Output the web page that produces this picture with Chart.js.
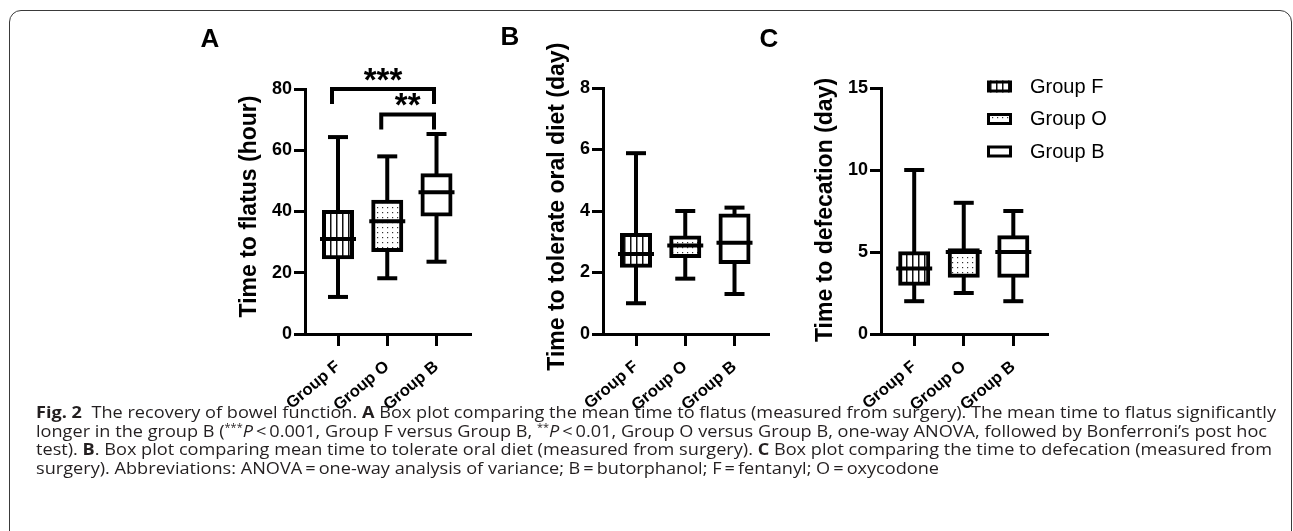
<!DOCTYPE html>
<html><head><meta charset="utf-8">
<script src="https://cdn.jsdelivr.net/npm/chart.js@4.4.1/dist/chart.umd.min.js"></script>
<style>
html,body{margin:0;padding:0;background:#fff;}
body{width:1293px;height:531px;overflow:hidden;position:relative;}
#frame{position:absolute;left:9px;top:10px;width:1283px;height:640px;border:1.5px solid #3a3a3a;border-radius:12px;box-sizing:border-box;}
canvas{position:absolute;top:0;}
.cap{position:absolute;left:36px;white-space:nowrap;font-family:'Open Sans','Noto Sans',sans-serif;font-size:16.6px;line-height:16.6px;color:#231f20;transform-origin:0 0;}
.cap b{font-weight:700;}
.sup{font-size:10px;position:relative;top:-6px;}
</style></head><body>
<div id="frame"></div>
<canvas id="chartA" width="350" height="420" style="left:150px"></canvas>
<canvas id="chartB" width="320" height="420" style="left:480px"></canvas>
<canvas id="chartC" width="400" height="420" style="left:750px"></canvas>
<div class="cap" id="l1" style="top:404px"><b>Fig. 2</b>&nbsp;&nbsp;The recovery of bowel function. <b>A</b> Box plot comparing the mean time to flatus (measured from surgery). The mean time to flatus significantly</div>
<div class="cap" id="l2" style="top:422.6px">longer in the group B (<span class="sup">***</span><i>P</i>&#8201;&lt;&#8201;0.001, Group F versus Group B, <span class="sup">**</span><i>P</i>&#8201;&lt;&#8201;0.01, Group O versus Group B, one-way ANOVA, followed by Bonferroni’s post hoc</div>
<div class="cap" id="l3" style="top:441.2px">test). <b>B</b>. Box plot comparing mean time to tolerate oral diet (measured from surgery). <b>C</b> Box plot comparing the time to defecation (measured from</div>
<div class="cap" id="l4" style="top:459.8px">surgery). Abbreviations: ANOVA&#8201;=&#8201;one-way analysis of variance; B&#8201;=&#8201;butorphanol; F&#8201;=&#8201;fentanyl; O&#8201;=&#8201;oxycodone</div>
<script>
// ---------- data ----------
const categories = ['Group F', 'Group O', 'Group B'];

// Panel A: time to flatus (hour)
const flatusMin    = [12.1, 18.2, 23.6];
const flatusQ1     = [25.1, 27.4, 39.0];
const flatusMedian = [31.0, 36.8, 46.3];
const flatusQ3     = [39.8, 43.2, 51.8];
const flatusMax    = [64.3, 58.0, 65.3];
const flatusTicks  = [0, 20, 40, 60, 80];

// Panel B: time to tolerate oral diet (day)
const dietMin    = [1.0, 1.8, 1.3];
const dietQ1     = [2.22, 2.54, 2.34];
const dietMedian = [2.6, 2.88, 2.97];
const dietQ3     = [3.22, 3.14, 3.85];
const dietMax    = [5.88, 4.0, 4.11];
const dietTicks  = [0, 2, 4, 6, 8];

// Panel C: time to defecation (day)
const defecMin    = [2.0, 2.5, 2.0];
const defecQ1     = [3.06, 3.55, 3.55];
const defecMedian = [4.0, 5.0, 5.0];
const defecQ3     = [4.93, 5.1, 5.9];
const defecMax    = [10.0, 8.0, 7.5];
const defecTicks  = [0, 5, 10, 15];

// significance brackets (panel A)
const sigFrom   = [0, 1];
const sigTo     = [2, 2];
const sigLevel  = [80, 71.7];
const sigLabels = ['***', '**'];

const FONT = "'Liberation Sans', Arial, Helvetica, sans-serif";

function stripePattern(ctx){
  const c = document.createElement('canvas'); c.width = 6; c.height = 6;
  const g = c.getContext('2d');
  g.fillStyle = '#fff'; g.fillRect(0,0,6,6);
  g.fillStyle = '#111'; g.fillRect(0,0,1.5,6);
  return ctx.createPattern(c, 'repeat');
}
function dotPattern(ctx){
  const c = document.createElement('canvas'); c.width = 5; c.height = 5;
  const g = c.getContext('2d');
  g.fillStyle = '#fff'; g.fillRect(0,0,5,5);
  g.fillStyle = '#333'; g.fillRect(2,2,1.2,1.2);
  return ctx.createPattern(c, 'repeat');
}

function makePanel(cfg){
  const canvas = document.getElementById(cfg.id);
  const ctx = canvas.getContext('2d');
  const fills = [stripePattern(ctx), dotPattern(ctx), '#ffffff'];
  const pts = arr => arr.map((v,i) => ({x:i, y:v}));
  const rng = (a,b) => a.map((v,i) => ({x:i, y:[v, b[i]]}));
  const pointLine = (arr, r) => ({
    type:'line', data:pts(arr), showLine:false, pointStyle:'line',
    pointRadius:r, pointHoverRadius:r, pointBorderWidth:4, pointHoverBorderWidth:4,
    pointBorderColor:'#000', borderColor:'#000', backgroundColor:'#000'
  });
  const annot = {
    id:'annot_' + cfg.id,
    afterDraw(chart){
      const c = chart.ctx, xs = chart.scales.x, ys = chart.scales.y;
      c.save();
      c.fillStyle = '#000'; c.strokeStyle = '#000';
      // y title
      c.save();
      c.translate(cfg.titleX, cfg.titleY); c.rotate(-Math.PI/2);
      c.font = 'bold 23px ' + FONT; c.textAlign = 'center'; c.textBaseline = 'middle';
      c.fillText(cfg.title, 0, 0);
      c.restore();
      // panel letter
      c.font = 'bold 26px ' + FONT; c.textAlign = 'center'; c.textBaseline = 'middle';
      c.fillText(cfg.letter, cfg.letterX, cfg.letterY);
      // significance brackets
      if (cfg.sig) {
        for (let k = 0; k < sigFrom.length; k++) {
          const x1 = xs.getPixelForValue(sigFrom[k]) - 6;
          const x2 = xs.getPixelForValue(sigTo[k]) - 2.5;
          const y = ys.getPixelForValue(sigLevel[k]);
          c.lineWidth = 4; c.lineJoin = 'miter'; c.lineCap = 'butt';
          c.beginPath(); c.moveTo(x1, y + 15); c.lineTo(x1, y); c.lineTo(x2, y); c.lineTo(x2, y + 15); c.stroke();
          c.font = 'bold 33px ' + FONT; c.textAlign = 'center'; c.textBaseline = 'alphabetic';
          c.fillText(sigLabels[k], (x1 + x2) / 2, y - 15 + 17);
        }
      }
      // legend
      if (cfg.legend) {
        for (let k = 0; k < categories.length; k++) {
          const yc = cfg.legendY[k];
          const bx = cfg.legendBoxX, bw = 25, bh = 12;
          c.fillStyle = fills[k]; c.fillRect(bx, yc - bh/2, bw, bh);
          c.lineWidth = 3; c.strokeStyle = '#000';
          c.strokeRect(bx + 1.5, yc - bh/2 + 1.5, bw - 3, bh - 3);
          c.fillStyle = '#000';
          c.font = '20px ' + FONT; c.textAlign = 'left'; c.textBaseline = 'middle';
          c.fillText(categories[k], cfg.legendTextX, yc + 0.5);
        }
      }
      c.restore();
    }
  };
  return new Chart(ctx, {
    type:'bar',
    data:{ datasets:[
      pointLine(cfg.med, 18),
      pointLine(cfg.max, 10),
      pointLine(cfg.min, 10),
      { type:'bar', data:rng(cfg.q1, cfg.q3), backgroundColor:fills, borderColor:'#000', borderWidth:4,
        borderSkipped:false, barThickness:28, inflateAmount:2, grouped:false },
      { type:'bar', data:rng(cfg.min, cfg.q1), backgroundColor:'#000', borderWidth:0, barThickness:4, inflateAmount:0, grouped:false },
      { type:'bar', data:rng(cfg.q3, cfg.max), backgroundColor:'#000', borderWidth:0, barThickness:4, inflateAmount:0, grouped:false }
    ]},
    options:{
      responsive:false, animation:false, events:[],
      layout:{ padding:{ left:0, right:cfg.padR, top:cfg.padT, bottom:0 } },
      plugins:{ legend:{ display:false }, tooltip:{ enabled:false } },
      scales:{
        x:{
          type:'linear', min:-0.67, max:2.68, offset:false,
          afterBuildTicks: s => { s.ticks = categories.map((c,i) => ({value:i})); },
          ticks:{ callback: v => categories[Math.round(v)], autoSkip:false, minRotation:40, maxRotation:40,
                  color:'#000', font:{ family:FONT, size:16.5, weight:'bold' }, padding:11 },
          grid:{ display:true, offset:false, drawOnChartArea:false, drawTicks:true, tickLength:12, lineWidth:3, color:'#000' },
          border:{ display:true, color:'#000', width:3 },
          afterFit: s => { s.height = cfg.xH; s.paddingLeft = 0; s.paddingRight = 0; }
        },
        y:{
          type:'linear', min:0, max:cfg.yMax,
          afterBuildTicks: s => { s.ticks = cfg.yTicks.map(v => ({value:v})); },
          ticks:{ color:'#000', font:{ family:FONT, size:18, weight:'bold' }, padding:2 },
          grid:{ display:true, drawOnChartArea:false, drawTicks:true, tickLength:11, lineWidth:3, color:'#000' },
          border:{ display:true, color:'#000', width:3 },
          afterFit: s => { s.width = cfg.yW; s.paddingTop = 0; s.paddingBottom = 0; }
        }
      }
    },
    plugins:[annot]
  });
}

makePanel({ id:'chartA', min:flatusMin, q1:flatusQ1, med:flatusMedian, q3:flatusQ3, max:flatusMax,
  yMax:80, yTicks:flatusTicks, yW:155, padR:30, padT:89, xH:86,
  title:'Time to flatus (hour)', titleX:99.7, titleY:206.5, letter:'A', letterX:60, letterY:40, sig:true });
makePanel({ id:'chartB', min:dietMin, q1:dietQ1, med:dietMedian, q3:dietQ3, max:dietMax,
  yMax:8, yTicks:dietTicks, yW:123, padR:32, padT:88, xH:86,
  title:'Time to tolerate oral diet (day)', titleX:78, titleY:206.7, letter:'B', letterX:30, letterY:38 });
makePanel({ id:'chartC', min:defecMin, q1:defecQ1, med:defecMedian, q3:defecQ3, max:defecMax,
  yMax:15, yTicks:defecTicks, yW:131, padR:103, padT:88, xH:86,
  title:'Time to defecation (day)', titleX:76, titleY:210, letter:'C', letterX:19, letterY:40,
  legend:true, legendY:[86.5, 119, 151.5], legendBoxX:237, legendTextX:280 });

// caption: fit first line to its measured width, same scale for all lines
const capLines = ['l1','l2','l3','l4'].map(id => document.getElementById(id));
const w1 = capLines[0].getBoundingClientRect().width;
const sc = 1240 / w1;
capLines.forEach(el => { el.style.transform = 'scaleX(' + sc + ')'; });
</script>
</body></html>
